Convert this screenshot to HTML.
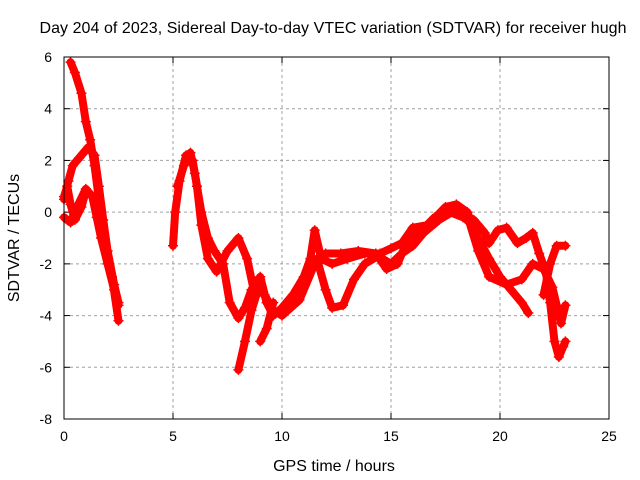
<!DOCTYPE html>
<html><head><meta charset="utf-8"><style>
body{margin:0;background:#fff;}
svg{display:block;font-family:"Liberation Sans",sans-serif;}
</style></head><body>
<svg id="chart" width="640" height="480">
<text x="333" y="33" font-size="16" text-anchor="middle" textLength="587">Day 204 of 2023, Sidereal Day-to-day VTEC variation (SDTVAR) for receiver hugh</text>
<text x="334" y="471" font-size="16" text-anchor="middle">GPS time / hours</text>
<text transform="translate(19,238) rotate(-90)" font-size="16" text-anchor="middle">SDTVAR / TECUs</text>
<g id="grid"></g><g id="ticks"></g><g id="series"></g>
<rect x="64" y="57" width="545" height="362" fill="none" stroke="#000" stroke-width="1"/>
</svg>
<script>
const xTicks=[0,5,10,15,20,25];
const yTicks=[-8,-6,-4,-2,0,2,4,6];
const trackA=[[0.3,5.8],[0.5,5.4],[0.8,4.6],[1.0,3.5],[1.2,2.8],[1.4,1.8],[1.6,0.5],[1.8,-0.8],[2.0,-1.8],[2.2,-2.5],[2.5,-4.2]];
const trackB=[[0,0.5],[0.2,1.2],[0.4,1.8],[0.7,2.1],[1.1,2.5],[1.4,2.2],[1.6,1.0],[1.8,-0.3],[2.0,-1.5],[2.3,-2.8],[2.5,-3.5]];
const trackC=[[0,-0.2],[0.3,-0.4],[0.6,0.2],[1.0,0.9],[1.3,0.6],[1.5,-0.2],[1.7,-1.0],[2.0,-2.0],[2.3,-3.0],[2.5,-3.6]];
const trackD=[[0,0.6],[0.15,1.0],[0.3,0.3],[0.5,-0.3],[0.8,0.2],[1.0,0.8]];
const trackE=[[5.0,-1.3],[5.1,0],[5.3,1.2],[5.6,2.2],[5.9,2.0],[6.1,1.0],[6.3,-0.5],[6.6,-1.8],[7.0,-2.3],[7.5,-1.5],[8.0,-1.0],[8.4,-1.8],[8.7,-3.0],[9.0,-2.6],[9.3,-3.5],[9.6,-4.0],[10,-3.7],[10.5,-3.2],[11,-2.5],[11.3,-1.8],[11.5,-0.7],[11.8,-1.8],[12.3,-2.0],[13,-1.8],[13.8,-1.6],[14.5,-1.6],[15.0,-1.4],[15.5,-1.2],[16,-0.6],[16.7,-0.5],[17.5,0.2],[18,0.3],[18.5,0],[19,-1.0],[19.5,-1.8],[20,-2.5],[20.5,-3.0],[21,-3.5],[21.3,-3.9]];
const trackF=[[5.2,1.0],[5.5,1.8],[5.8,2.3],[6.0,1.5],[6.3,0],[6.6,-1.0],[6.9,-1.5],[7.3,-2.0],[7.6,-3.5],[8.0,-4.1],[8.3,-3.7],[8.6,-3.0],[9.0,-2.5],[9.3,-3.5],[9.7,-3.9],[10.2,-3.8],[10.8,-3.2],[11.2,-2.3],[11.6,-1.8],[12,-3.0],[12.3,-3.7],[12.8,-3.6],[13.3,-2.6],[13.8,-2.0],[14.4,-1.7],[15,-2.0],[15.5,-1.6],[16,-1.3],[16.5,-0.8],[17.2,-0.3],[18,0.1],[18.6,-0.4],[19,-1.5],[19.5,-2.5],[20.3,-2.8],[21,-2.6],[21.5,-2.0],[22,-2.2],[22.4,-2.9],[22.8,-4.3],[23,-3.6]];
const trackG=[[8.0,-6.1],[8.3,-5.0],[8.6,-3.8],[8.9,-3.0],[9.2,-3.2],[9.6,-3.8],[10,-4.0],[10.8,-3.4],[11.5,-2.0],[12.0,-1.6],[12.7,-1.6],[13.5,-1.5],[14.3,-1.6],[14.8,-2.2],[15.3,-2.0],[15.8,-1.0],[16.3,-0.8],[17,-0.2],[17.7,0.0],[18.3,-0.2],[18.8,-0.3],[19.3,-0.8],[19.5,-1.2],[19.9,-0.7],[20.3,-0.6],[20.8,-1.2],[21.2,-1.0],[21.5,-0.8],[21.8,-1.6],[22.1,-2.3],[22.3,-3.5],[22.5,-5.0],[22.7,-5.6],[22.9,-5.2],[23,-5.0]];
const trackH=[[9.0,-5.0],[9.3,-4.5],[9.6,-3.5]];
const trackI=[[22.0,-3.2],[22.3,-2.0],[22.6,-1.3],[23.0,-1.3]];
const tracks=[trackA,trackB,trackC,trackD,trackE,trackF,trackG,trackH,trackI];
const NS='http://www.w3.org/2000/svg';
const X0=64,X1=609,Y0=419,Y1=57;
function sx(v){return X0+(v-0)/(25-0)*(X1-X0);}
function sy(v){return Y0-(v+8)/(6+8)*(Y0-Y1);}
function mk(t,a,p){const e=document.createElementNS(NS,t);for(const k in a)e.setAttribute(k,a[k]);p.appendChild(e);return e;}
const grid=document.getElementById('grid'),ticks=document.getElementById('ticks'),ser=document.getElementById('series');
xTicks.forEach(t=>{const x=sx(t);
 if(t>0&&t<25){const g=mk('line',{x1:x,x2:x,y1:Y1,y2:Y0,stroke:'#a0a0a0','stroke-dasharray':'3,3'},grid);
 
 }
 mk('line',{x1:x,x2:x,y1:Y0,y2:Y0-6,stroke:'#000'},ticks);mk('line',{x1:x,x2:x,y1:Y1,y2:Y1+6,stroke:'#000'},ticks);
 const tx=mk('text',{x:x,y:Y0+22,'font-size':14,'text-anchor':'middle'},ticks);tx.textContent=t;
 
 });
yTicks.forEach(t=>{const y=sy(t);
 if(t>-8&&t<6){const g=mk('line',{x1:X0,x2:X1,y1:y,y2:y,stroke:'#a0a0a0','stroke-dasharray':'3,3'},grid);
 
 }
 mk('line',{x1:X0,x2:X0+6,y1:y,y2:y,stroke:'#000'},ticks);mk('line',{x1:X1,x2:X1-6,y1:y,y2:y,stroke:'#000'},ticks);
 const tx=mk('text',{x:X0-12,y:y+5,'font-size':14,'text-anchor':'end'},ticks);tx.textContent=t;
 
 });
tracks.forEach((tr,i)=>{
 const pts=tr.map(p=>sx(p[0])+','+sy(p[1])).join(' ');
 const pl=mk('polyline',{points:pts,fill:'none',stroke:'#ff0000','stroke-width':8,'stroke-linejoin':'round','stroke-linecap':'round'},ser);
 
 
 tr.forEach(p=>{const x=sx(p[0]),y=sy(p[1]);
  const m=mk('path',{d:`M${x-5},${y}H${x+5}M${x},${y-5}V${y+5}`,stroke:'#ff0000','stroke-width':1.5},ser);
  
  });
});
</script>
</body></html>
